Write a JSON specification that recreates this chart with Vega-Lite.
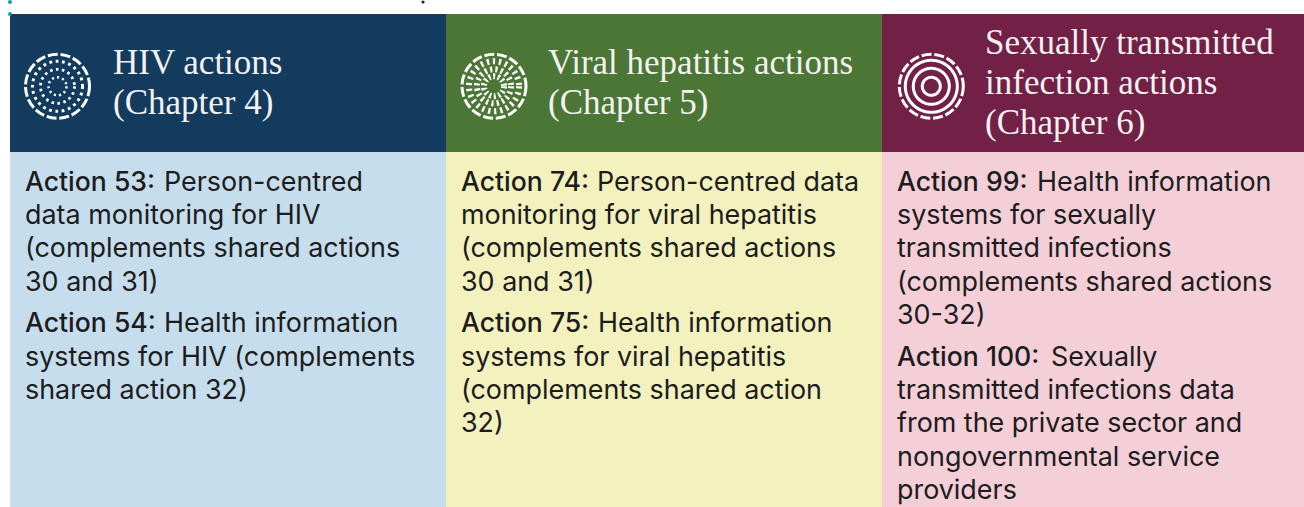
{
"$schema":"https://vega.github.io/schema/vega-lite/v6.json",
"width":1304,"height":507,"padding":0,
"autosize":{"type":"fit","contains":"padding"},
"background":"#ffffff",
"view":{"stroke":null},
"datasets":{
"panels":[
{"x":10,"x2":446,"y":13,"y2":151,"part":"head1"},
{"x":446,"x2":882,"y":13,"y2":151,"part":"head2"},
{"x":882,"x2":1304,"y":13,"y2":151,"part":"head3"},
{"x":10,"x2":446,"y":151,"y2":509,"part":"body1"},
{"x":446,"x2":882,"y":151,"y2":509,"part":"body2"},
{"x":882,"x2":1304,"y":151,"y2":509,"part":"body3"}],
"heads":[
{"x":113,"y":73,"t":"HIV actions"},
{"x":113,"y":113,"t":"(Chapter 4)"},
{"x":548,"y":73,"t":"Viral hepatitis actions"},
{"x":548,"y":113,"t":"(Chapter 5)"},
{"x":985,"y":53,"t":"Sexually transmitted"},
{"x":985,"y":93,"t":"infection actions"},
{"x":985,"y":133,"t":"(Chapter 6)"}],
"bold":[
{"x":26,"y":190,"t":"Action 53:"},
{"x":26,"y":331,"t":"Action 54:"},
{"x":462,"y":190,"t":"Action 74:"},
{"x":462,"y":331,"t":"Action 75:"},
{"x":898,"y":190,"t":"Action 99:"},
{"x":898,"y":365,"t":"Action 100:"}],
"regular":[
{"x":165,"y":190,"t":"Person-centred"},
{"x":26,"y":223,"t":"data monitoring for HIV"},
{"x":26,"y":256,"t":"(complements shared actions"},
{"x":26,"y":290,"t":"30 and 31)"},
{"x":165,"y":331,"t":"Health information"},
{"x":26,"y":365,"t":"systems for HIV (complements"},
{"x":26,"y":398,"t":"shared action 32)"},
{"x":598,"y":190,"t":"Person-centred data"},
{"x":462,"y":223,"t":"monitoring for viral hepatitis"},
{"x":462,"y":256,"t":"(complements shared actions"},
{"x":462,"y":290,"t":"30 and 31)"},
{"x":599,"y":331,"t":"Health information"},
{"x":462,"y":365,"t":"systems for viral hepatitis"},
{"x":462,"y":398,"t":"(complements shared action"},
{"x":462,"y":431,"t":"32)"},
{"x":1038,"y":190,"t":"Health information"},
{"x":898,"y":223,"t":"systems for sexually"},
{"x":898,"y":256,"t":"transmitted infections"},
{"x":898,"y":290,"t":"(complements shared actions"},
{"x":898,"y":323,"t":"30-32)"},
{"x":1052,"y":365,"t":"Sexually"},
{"x":898,"y":398,"t":"transmitted infections data"},
{"x":898,"y":431,"t":"from the private sector and"},
{"x":898,"y":465,"t":"nongovernmental service"},
{"x":898,"y":498,"t":"providers"}],
"rings":[
{"x":57.5,"y":85.3,"ring":"dash32"},
{"x":57.5,"y":85.3,"ring":"dots25"},
{"x":57.5,"y":85.3,"ring":"dots17"},
{"x":57.5,"y":85.3,"ring":"dots9"},
{"x":494,"y":85.3,"ring":"dash32"},
{"x":494,"y":85.3,"ring":"rays25"},
{"x":494,"y":85.3,"ring":"rays17"},
{"x":494,"y":85.3,"ring":"rays10"},
{"x":931.3,"y":85.3,"ring":"dash32"},
{"x":931.3,"y":85.3,"ring":"solid26"},
{"x":931.3,"y":85.3,"ring":"solid18"},
{"x":931.3,"y":85.3,"ring":"solid9"}],
"marks":[{"x":10,"y":1},{"x":10,"y":13}],
"speck":[{"x":423,"y":1}]
},
"encoding":{
"x":{"field":"x","type":"quantitative","scale":{"domain":[0,1304],"range":[0,1304],"nice":false,"zero":false},"axis":null},
"y":{"field":"y","type":"quantitative","scale":{"domain":[0,507],"range":[-1,506],"nice":false,"zero":false},"axis":null}
},
"layer":[
{"data":{"name":"panels"},"mark":{"type":"rect","strokeWidth":0},
 "encoding":{"x2":{"field":"x2"},"y2":{"field":"y2"},
 "color":{"field":"part","type":"nominal","legend":null,"scale":{"domain":["head1","head2","head3","body1","body2","body3"],"range":["#123B5E","#4B7635","#722046","#C6DDEE","#F3F1BE","#F4CFD8"]}}}},
{"data":{"name":"marks"},"mark":{"type":"point","shape":"circle","filled":true,"size":16,"color":"#0E9DB0","opacity":1}},
{"data":{"name":"speck"},"mark":{"type":"point","shape":"circle","filled":true,"size":10,"color":"#222222","opacity":1}},
{"data":{"name":"heads"},"mark":{"type":"text","align":"left","baseline":"alphabetic","font":"Liberation Serif","fontSize":35,"color":"#F4F1F1"},"encoding":{"text":{"field":"t"}}},
{"data":{"name":"regular"},"mark":{"type":"text","align":"left","baseline":"alphabetic","dx":-1,"font":"Inter","fontSize":26.9,"fontWeight":400,"color":"#1C1C1C"},"encoding":{"text":{"field":"t"}}},
{"data":{"name":"bold"},"mark":{"type":"text","align":"left","baseline":"alphabetic","dx":-1,"font":"Inter","fontSize":26.6,"fontWeight":500,"color":"#1C1C1C"},"encoding":{"text":{"field":"t"}}},
{"data":{"name":"rings"},"mark":{"type":"point","shape":"circle","filled":false,"opacity":1,"color":"#FFFFFF"},
 "encoding":{
 "size":{"field":"ring","type":"nominal","legend":null,"scale":{"type":"ordinal","domain":["dash32","dots25","dots17","dots9","rays25","rays17","rays10","solid26","solid18","solid9"],"range":[4096,2500,1156,324,2500,1156,400,2704,1296,324]}},
 "strokeDash":{"field":"ring","type":"nominal","legend":null,"scale":{"type":"ordinal","domain":["dash32","dots25","dots17","dots9","rays25","rays17","rays10","solid26","solid18","solid9"],"range":[[10,2.8],[2.8,3.6],[2.6,3.4],[2.2,3],[2.3,3.8],[2.2,3.2],[2,2.6],[1,0],[1,0],[1,0]]}},
 "strokeWidth":{"field":"ring","type":"nominal","legend":null,"scale":{"type":"ordinal","domain":["dash32","dots25","dots17","dots9","rays25","rays17","rays10","solid26","solid18","solid9"],"range":[3,3,2.8,2.4,6,6,6,3,3,3]}}}}
]
}
